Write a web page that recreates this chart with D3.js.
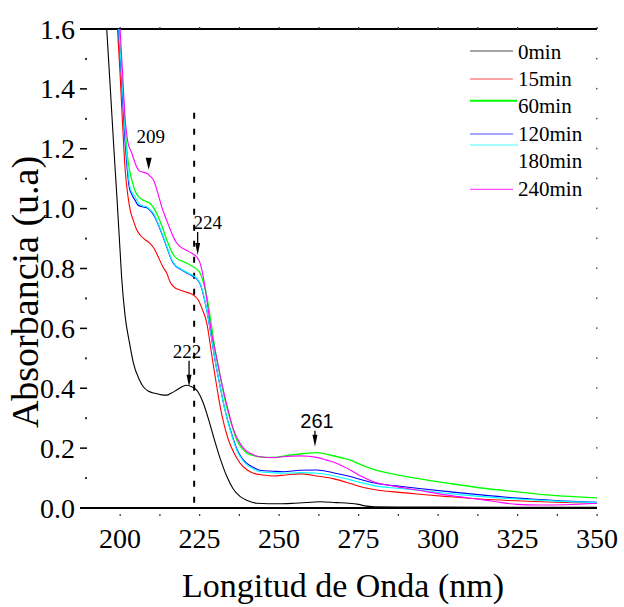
<!DOCTYPE html>
<html>
<head>
<meta charset="utf-8">
<script src="https://cdn.jsdelivr.net/npm/d3@7"></script>
<style>
  body { margin: 0; background: #fff; }
</style>
</head>
<body>
<div id="chart"></div>
<script>
// absorbance spectra, [wavelength nm, absorbance]
const min0 = [[195.8,1.6],[197,1.39],[198,1.21],[199,1.04],[200,0.86],[200.5,0.77],[201.6,0.64],[203,0.55],[204.2,0.484],[206,0.43],[207.3,0.405],[209,0.39],[211,0.383],[213,0.378],[214.7,0.377],[216,0.383],[217.8,0.394],[219.5,0.405],[221,0.41],[222.5,0.405],[224.1,0.394],[226.2,0.35],[228,0.29],[229.4,0.238],[231.5,0.165],[233.6,0.105],[235.5,0.065],[237.8,0.038],[240,0.025],[243,0.016],[250,0.014],[255,0.016],[260,0.019],[263,0.021],[268,0.018],[272,0.016],[275,0.012],[277,0.007],[280,0.004],[290,0.003],[300,0.003],[350,0.002]];

const min15 = [[199.2,1.6],[200,1.45],[200.8,1.28],[201.6,1.13],[202.5,1.04],[203.3,0.99],[204.2,0.96],[205.2,0.93],[206.3,0.912],[207.8,0.897],[209.4,0.884],[210.8,0.865],[212,0.839],[213.5,0.805],[214.7,0.784],[215.7,0.756],[217,0.738],[218.9,0.728],[220.5,0.722],[222,0.717],[223.5,0.708],[224.6,0.695],[226,0.66],[227.3,0.617],[228.3,0.55],[229.4,0.472],[230.5,0.4],[231.5,0.338],[232.8,0.275],[234.1,0.227],[236,0.18],[237.8,0.149],[240,0.127],[242,0.116],[245,0.11],[248.2,0.107],[252,0.11],[256.6,0.114],[261.9,0.107],[267,0.098],[272.4,0.082],[276,0.07],[280.8,0.06],[287,0.053],[293.4,0.047],[303,0.038],[314.3,0.029],[325,0.024],[337,0.019],[350,0.016]];

const min60 = [[199.6,1.6],[200.5,1.45],[201.5,1.28],[202.5,1.16],[203.7,1.096],[204.7,1.06],[205.8,1.04],[207.5,1.027],[209.4,1.018],[210.7,1.0],[212,0.973],[213.4,0.935],[214.7,0.895],[216,0.862],[216.8,0.845],[218.3,0.83],[219.9,0.823],[221.5,0.815],[223,0.806],[224.2,0.797],[225.2,0.784],[226.3,0.75],[227.3,0.706],[228.6,0.62],[229.9,0.528],[231.5,0.44],[233,0.361],[234.8,0.29],[236.7,0.227],[238.3,0.2],[239.9,0.183],[242,0.175],[244,0.171],[248,0.169],[253.5,0.177],[258,0.182],[261.9,0.185],[266,0.177],[270,0.167],[272.4,0.16],[276,0.143],[279.7,0.129],[286,0.113],[293.4,0.099],[303,0.083],[314.3,0.066],[325,0.054],[335.3,0.043],[350,0.034]];

const min120 = [[199.5,1.6],[200.4,1.45],[201.3,1.27],[202.1,1.15],[202.9,1.07],[203.8,1.045],[204.6,1.03],[205.6,1.012],[207,1.006],[208.4,1.003],[209.5,0.993],[210.5,0.98],[212,0.947],[213.6,0.903],[215,0.862],[216.3,0.826],[217.5,0.808],[218.9,0.798],[220.5,0.788],[222.6,0.776],[224.1,0.765],[225.2,0.748],[226.3,0.708],[227.3,0.659],[228.6,0.578],[229.9,0.492],[231.5,0.404],[233,0.328],[234.8,0.258],[236.7,0.198],[238.3,0.167],[239.9,0.149],[242,0.135],[244,0.126],[248,0.123],[251.4,0.121],[256.6,0.126],[261.9,0.127],[267,0.118],[272.4,0.105],[276.5,0.093],[280.8,0.082],[287,0.074],[293.4,0.066],[304,0.054],[314.3,0.043],[325,0.033],[337,0.025],[350,0.019]];

const min180 = [[199.6,1.6],[200.5,1.45],[201.5,1.27],[202.3,1.15],[203.1,1.073],[204,1.05],[204.7,1.04],[205.8,1.018],[207,1.01],[208.4,1.006],[209.5,0.996],[210.5,0.984],[212,0.95],[213.6,0.906],[215,0.865],[216.3,0.828],[217.5,0.81],[218.9,0.8],[220.5,0.79],[222.6,0.778],[224.1,0.767],[225.2,0.75],[226.3,0.71],[227.3,0.661],[228.6,0.58],[229.9,0.494],[231.5,0.405],[233,0.327],[234.8,0.255],[236.7,0.194],[238.3,0.163],[239.9,0.144],[242,0.13],[244,0.121],[248,0.118],[251.4,0.116],[256.6,0.118],[261.9,0.116],[267,0.108],[272.4,0.094],[276.5,0.083],[280.8,0.073],[287,0.066],[293.4,0.06],[304,0.048],[314.3,0.038],[325,0.03],[337,0.023],[350,0.018]];

const min240 = [[200,1.6],[200.8,1.45],[201.6,1.3],[202.5,1.22],[203.7,1.185],[204.8,1.15],[205.8,1.129],[207,1.122],[208.4,1.118],[209.5,1.108],[210.5,1.096],[211.8,1.055],[213.1,1.006],[214.7,0.96],[216.3,0.917],[217.5,0.89],[218.9,0.873],[220.7,0.862],[222.6,0.851],[224,0.84],[225.2,0.817],[226.2,0.77],[227.5,0.68],[228.8,0.583],[230.4,0.5],[232,0.416],[233.8,0.335],[235.7,0.261],[237.5,0.22],[239.3,0.194],[241.5,0.18],[244,0.171],[248.2,0.168],[252,0.172],[256.6,0.174],[261.9,0.169],[265,0.16],[268.2,0.149],[272.4,0.127],[276,0.105],[279.7,0.088],[286,0.073],[293.4,0.06],[303,0.043],[314.3,0.027],[320,0.018],[324.8,0.012],[332,0.01],[340,0.011],[350,0.016]];

const names = ["0min", "15min", "60min", "120min", "180min", "240min"];
const colors = ["#000000", "#ff0000", "#00ff00", "#0000ff", "#00ffff", "#ff00ff"];
const spectra = [min0, min15, min60, min120, min180, min240];

const xTicks = [200, 225, 250, 275, 300, 325, 350];
const yTicks = [0, 0.2, 0.4, 0.6, 0.8, 1.0, 1.2, 1.4, 1.6];

// peak marks: label, wavelength, absorbance at arrow tip
const peaks = [
  { label: "209", nm: 209, a: 1.13, style: "tri" },
  { label: "224", nm: 224.4, a: 0.845, style: "arrow" },
  { label: "222", nm: 221.7, a: 0.405, style: "arrow" },
  { label: "261", nm: 261.3, a: 0.205, style: "arrow", sans: true }
];
const markerNm = 223.3;

// the renderer only takes a single family name here
const SERIF = "Liberation Serif";
const SANS = "Liberation Sans";

const W = 624, H = 607;
const pLeft = 80, pRight = 597, pTop = 29, pBottom = 508;

const svg = d3.select("#chart").append("svg")
  .attr("width", W)
  .attr("height", H);

const x = d3.scaleLinear().domain([187.4, 350]).range([pLeft, pRight]);
const y = d3.scaleLinear().domain([0, 1.6]).range([pBottom, pTop]);

svg.append("clipPath").attr("id", "plot")
  .append("rect")
  .attr("x", pLeft).attr("y", pTop)
  .attr("width", pRight - pLeft).attr("height", pBottom - pTop);

// frame lines (top and bottom only)
svg.append("line")
  .attr("x1", pLeft).attr("x2", pRight)
  .attr("y1", pTop).attr("y2", pTop)
  .attr("stroke", "#000").attr("stroke-width", 2);
svg.append("line")
  .attr("x1", pLeft).attr("x2", pRight)
  .attr("y1", pBottom).attr("y2", pBottom)
  .attr("stroke", "#000").attr("stroke-width", 2);

// x ticks: small dots under bottom line, bumps on top
const xMinor = d3.range(200, 350.1, 12.5);
svg.append("g").selectAll("rect")
  .data(xMinor)
  .join("rect")
  .attr("x", d => x(d) - 0.5).attr("y", pBottom + 6)
  .attr("width", 1.2).attr("height", 2)
  .attr("fill", "#333");
svg.append("g").selectAll("rect")
  .data(xMinor)
  .join("rect")
  .attr("x", d => x(d) - 0.5).attr("y", pTop - 2)
  .attr("width", 1.2).attr("height", 2)
  .attr("fill", "#333");

svg.append("g").selectAll("text")
  .data(xTicks)
  .join("text")
  .attr("x", d => x(d))
  .attr("y", 548)
  .attr("text-anchor", "middle")
  .attr("font-family", SERIF)
  .attr("font-size", 28)
  .text(d => d);

// y ticks: major on left, minor dots left and right
svg.append("g").selectAll("line")
  .data(yTicks)
  .join("line")
  .attr("x1", pLeft).attr("x2", pLeft + 7)
  .attr("y1", d => y(d)).attr("y2", d => y(d))
  .attr("stroke", "#000").attr("stroke-width", 1.5);

const yMinor = d3.range(0.1, 1.6, 0.2);
svg.append("g").selectAll("rect")
  .data(yMinor)
  .join("rect")
  .attr("x", pLeft + 5).attr("y", d => y(d) - 1)
  .attr("width", 2).attr("height", 2)
  .attr("fill", "#333");

const yRight = d3.range(0.1, 1.6, 0.1);
svg.append("g").selectAll("rect")
  .data(yRight)
  .join("rect")
  .attr("x", pRight - 1).attr("y", d => y(d) - 1)
  .attr("width", 1.5).attr("height", 1.5)
  .attr("fill", "#555");

svg.append("g").selectAll("text")
  .data(yTicks)
  .join("text")
  .attr("x", 75)
  .attr("y", d => y(d))
  .attr("dy", "0.34em")
  .attr("text-anchor", "end")
  .attr("font-family", SERIF)
  .attr("font-size", 28)
  .text(d => d3.format(".1f")(d));

// axis titles
svg.append("text")
  .attr("x", 343).attr("y", 597)
  .attr("text-anchor", "middle")
  .attr("font-family", SERIF)
  .attr("font-size", 34)
  .text("Longitud de Onda (nm)");

svg.append("text")
  .attr("transform", "translate(38,292) rotate(-90)")
  .attr("text-anchor", "middle")
  .attr("font-family", SERIF)
  .attr("font-size", 38)
  .text("Absorbancia (u.a)");

// dashed marker
svg.append("line")
  .attr("x1", x(markerNm)).attr("x2", x(markerNm))
  .attr("y1", y(1.32)).attr("y2", pBottom)
  .attr("stroke", "#000").attr("stroke-width", 2)
  .attr("stroke-dasharray", "6,10");

// spectra
const line = d3.line()
  .x(d => x(d[0]))
  .y(d => y(d[1]))
  .curve(d3.curveMonotoneX);

svg.append("g")
  .attr("clip-path", "url(#plot)")
  .selectAll("path")
  .data(spectra)
  .join("path")
  .attr("d", line)
  .attr("fill", "none")
  .attr("stroke", (d, i) => colors[i])
  .attr("stroke-width", (d, i) => i === 2 ? 1.3 : 1.1);

// peak annotations
const ann = svg.append("g");
peaks.forEach(p => {
  const px = x(p.nm), py = y(p.a);
  if (p.style === "tri") {
    ann.append("path")
      .attr("d", `M${px - 3},${py - 12}L${px + 3},${py - 12}L${px},${py}Z`)
      .attr("fill", "#000");
    ann.append("text")
      .attr("x", px + 2).attr("y", py - 27)
      .attr("text-anchor", "middle")
      .attr("font-family", SERIF)
      .attr("font-size", 19)
      .text(p.label);
  } else {
    const len = p.label === "222" ? 26 : (p.label === "261" ? 16 : 23);
    ann.append("line")
      .attr("x1", px).attr("x2", px)
      .attr("y1", py - len).attr("y2", py - 8)
      .attr("stroke", "#000").attr("stroke-width", 1.3);
    ann.append("path")
      .attr("d", `M${px - 2.5},${py - 12}L${px + 2.5},${py - 12}L${px},${py}Z`)
      .attr("fill", "#000");
    ann.append("text")
      .attr("x", p.label === "224" ? px + 10 : (p.label === "222" ? px - 2 : px + 2))
      .attr("y", py - len - 3)
      .attr("text-anchor", "middle")
      .attr("font-family", p.sans ? SANS : SERIF)
      .attr("font-size", p.sans ? 20 : 19)
      .text(p.label);
  }
});

// legend (sample lines sit slightly off their labels in the original)
const legTextY = [58.5, 86, 113.3, 141, 168, 196];
const legLineY = [51, 79, 100.7, 134, 145, 189.3];
const legLineEnd = [513, 513, 517, 513, 518, 513];
const leg = svg.append("g");
names.forEach((n, i) => {
  leg.append("line")
    .attr("x1", 470).attr("x2", legLineEnd[i])
    .attr("y1", legLineY[i]).attr("y2", legLineY[i])
    .attr("stroke", colors[i])
    .attr("stroke-width", i === 2 ? 2 : 1.2)
    .attr("stroke-opacity", i === 2 ? 1 : 0.7);
  leg.append("text")
    .attr("x", 518).attr("y", legTextY[i])
    .attr("font-family", SERIF)
    .attr("font-size", 21)
    .text(n);
});
</script>
</body>
</html>
